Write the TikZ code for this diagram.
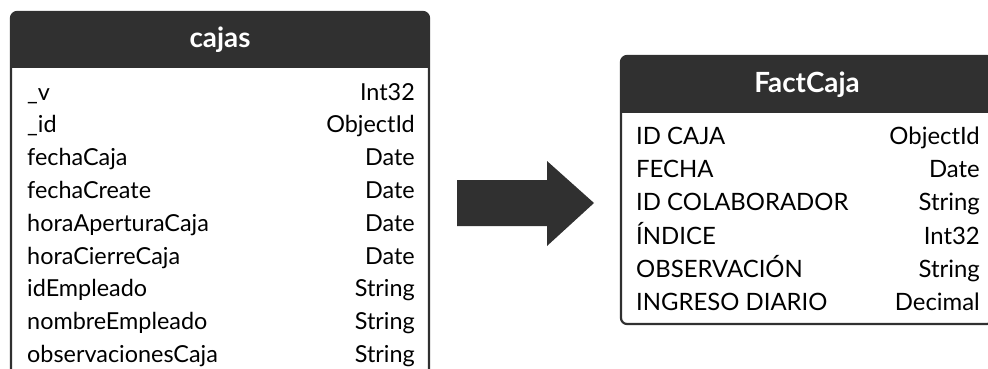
\documentclass[tikz,border=0pt]{standalone}
\usepackage{fontspec}
\setmainfont{Lato}
\definecolor{ink}{HTML}{303030}
\tikzset{
  tblborder/.style={draw=ink, line width=2.2pt, rounded corners=6pt},
  tbltitle/.style={text=white, font=\fontsize{27.8}{30}\selectfont\bfseries, inner sep=0pt},
  fieldname/.style={anchor=base west, inner sep=0pt, text=black},
  fieldtype/.style={anchor=base east, inner sep=0pt, text=black},
  leftrow/.style={font=\fontsize{23.4}{26}\selectfont},
  rightrow/.style={font=\fontsize{23.9}{26}\selectfont},
}
\begin{document}
\begin{tikzpicture}[x=1pt, y=-1pt]
\clip (0,0) rectangle (988,369);

% ---- collection "cajas" ----
\begin{scope}
  \clip[rounded corners=6pt] (11,12) rectangle (429,400);
  \fill[white] (11,12) rectangle (429,400);
  \fill[ink] (11,12) rectangle (429,68);
\end{scope}
\draw[tblborder] (11,12) rectangle (429,400);
\node[tbltitle] (cajas) at (220,40) {cajas};
\foreach \name/\type [count=\i] in {%
  \_v/Int32, \_id/ObjectId, fechaCaja/Date, fechaCreate/Date,
  horaAperturaCaja/Date, horaCierreCaja/Date, idEmpleado/String,
  nombreEmpleado/String, observacionesCaja/String}{
  \node[fieldname, leftrow] (cajas-n\i) at (27,{100+(\i-1)*32.8}) {\name};
  \node[fieldtype, leftrow] (cajas-t\i) at (415,{100+(\i-1)*32.8}) {\type};
}

% ---- transformation arrow ----
\fill[ink] (457,180) -- (547,180) -- (547,161) -- (594,203)
  -- (547,246) -- (547,226) -- (457,226) -- cycle;

% ---- table "FactCaja" ----
\begin{scope}
  \clip[rounded corners=6pt] (621,56) rectangle (993,324);
  \fill[white] (621,56) rectangle (993,324);
  \fill[ink] (621,56) rectangle (993,113);
\end{scope}
\draw[tblborder] (621,56) rectangle (993,324);
\node[tbltitle] (fact) at (807,84.5) {FactCaja};
\foreach \name/\type [count=\i] in {%
  ID CAJA/ObjectId, FECHA/Date, ID COLABORADOR/String,
  ÍNDICE/Int32, OBSERVACIÓN/String, INGRESO DIARIO/Decimal}{
  \node[fieldname, rightrow] (fact-n\i) at (636,{144.3+(\i-1)*33.3}) {\name};
  \node[fieldtype, rightrow] (fact-t\i) at (980,{144.3+(\i-1)*33.3}) {\type};
}
\end{tikzpicture}
\end{document}
